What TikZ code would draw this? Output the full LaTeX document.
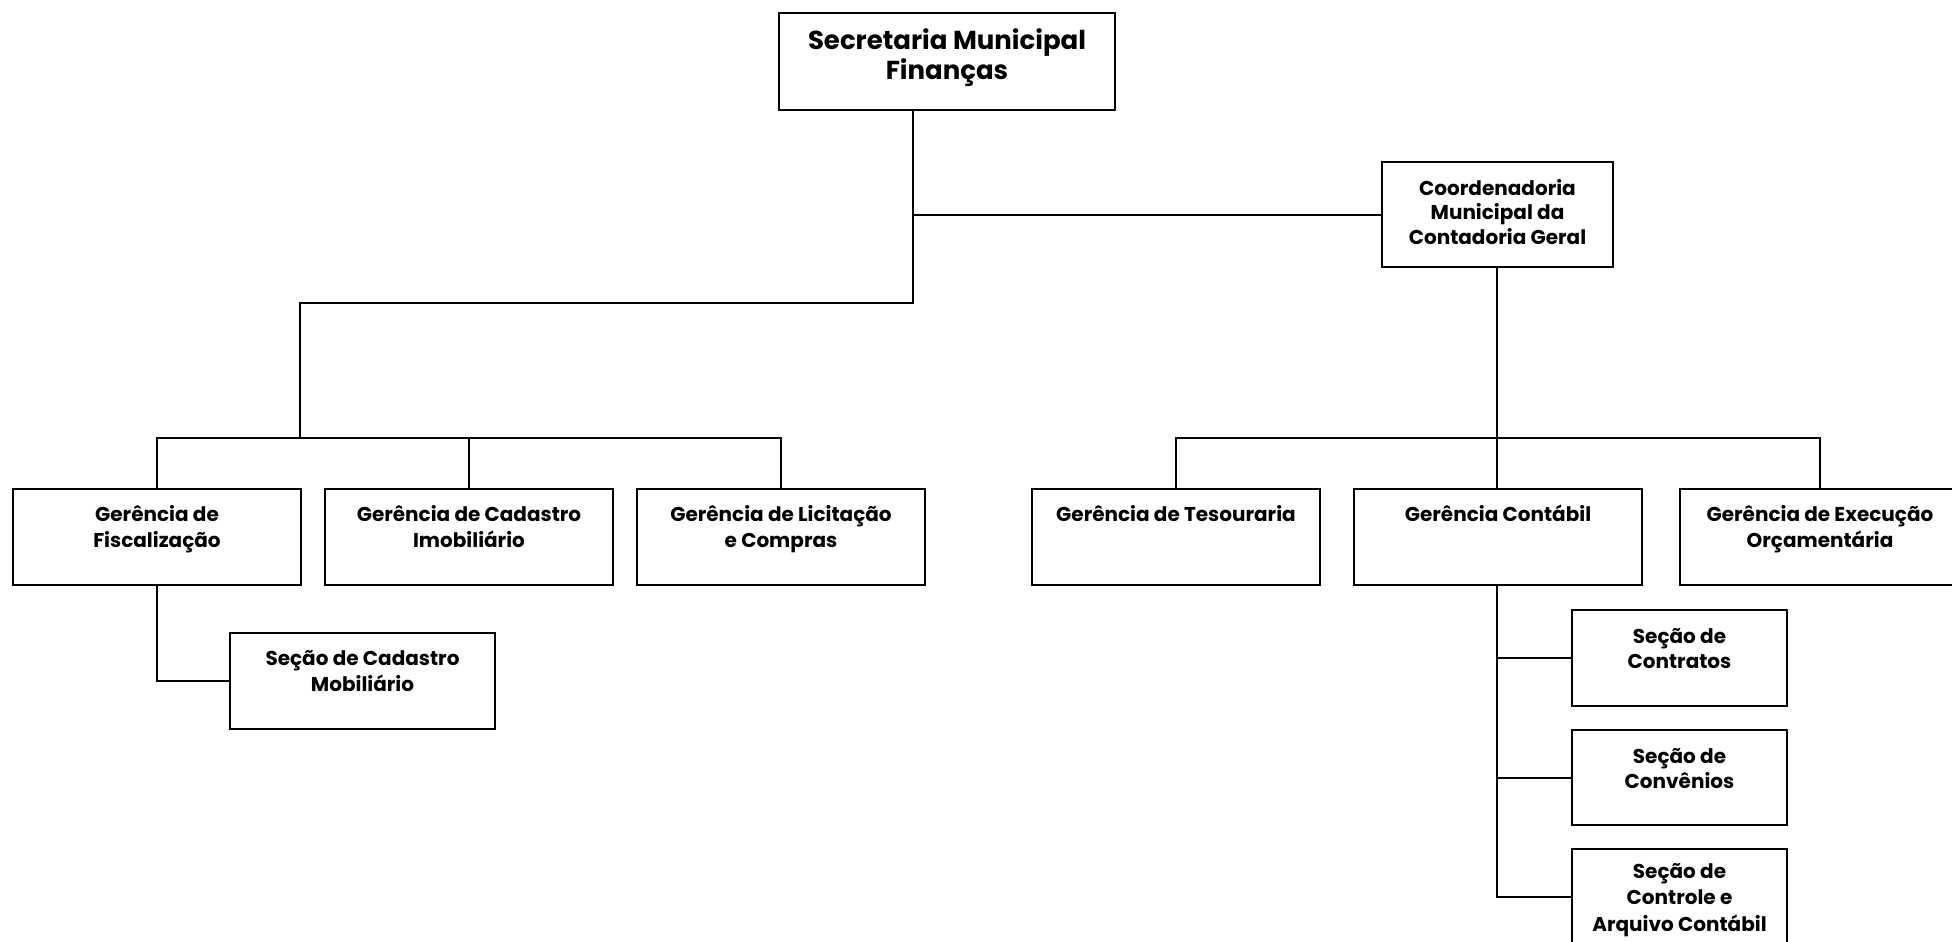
\documentclass[tikz,border=0pt]{standalone}
\usepackage{fontspec}
\setmainfont{Poppins}
\usetikzlibrary{calc}
\tikzset{
  orgnode/.style={draw, line width=2pt, inner sep=0pt, anchor=north west, font=\bfseries\fontsize{20}{26}\selectfont},
  conn/.style={draw, line width=2pt}
}
\newcommand{\orgbox}[8]{% name,x,y,w,h,strut,font,text
  \node[orgnode, font=\bfseries#7] (#1) at (#2,#3) {\begin{minipage}[t][#5pt][t]{#4pt}\centering\rule{0pt}{#6pt}#8\end{minipage}};}
\begin{document}
\begin{tikzpicture}[x=1pt,y=-1pt]
\useasboundingbox (0,0) rectangle (1952,942);
\clip (0,0) rectangle (1952,942);
\fill[white] (0,0) rectangle (1952,942);
% boxes
\orgbox{sec}{778}{12}{336}{97}{37}{\fontsize{26}{29}\selectfont}{Secretaria Municipal\\Finanças}
\orgbox{coord}{1381}{161}{231}{105}{33}{\fontsize{20}{24.5}\selectfont}{Coordenadoria\\Municipal da\\Contadoria Geral}
\orgbox{fisc}{12}{488}{288}{96}{32}{\fontsize{20}{26}\selectfont}{Gerência de\\Fiscalização}
\orgbox{cadi}{324}{488}{288}{96}{32}{\fontsize{20}{26}\selectfont}{Gerência de Cadastro\\Imobiliário}
\orgbox{lic}{636}{488}{288}{96}{32}{\fontsize{20}{26}\selectfont}{Gerência de Licitação\\e Compras}
\orgbox{tes}{1031}{488}{288}{96}{32}{\fontsize{20}{26}\selectfont}{Gerência de Tesouraria}
\orgbox{cont}{1353}{488}{288}{96}{32}{\fontsize{20}{26}\selectfont}{Gerência Contábil}
\orgbox{exe}{1679}{488}{280}{96}{32}{\fontsize{20}{26}\selectfont}{Gerência de Execução\\Orçamentária}
\orgbox{mob}{229}{632}{265}{96}{32}{\fontsize{20}{26}\selectfont}{Seção de Cadastro\\Mobiliário}
\orgbox{scA}{1571}{609}{215}{96}{33}{\fontsize{20}{25}\selectfont}{Seção de\\Contratos}
\orgbox{scB}{1571}{729}{215}{95}{33}{\fontsize{20}{25}\selectfont}{Seção de\\Convênios}
\orgbox{scC}{1571}{848}{215}{96}{29}{\fontsize{20}{26.5}\selectfont}{Seção de\\Controle e\\Arquivo Contábil}
% junction coordinates
\coordinate (kneeA) at (913,303);
\coordinate (kneeB) at (300,303);
\coordinate (busL) at (300,438);
\coordinate (busR) at (1497,438);
% connectors
\draw[conn] (sec.south -| kneeA) -- (kneeA) -- (kneeB) -- (busL);
\draw[conn] (kneeA |- coord.west) -- (coord.west);
\draw[conn] (fisc.north) |- (busL) -| (lic.north);
\draw[conn] (cadi.north) -- (cadi.north |- busL);
\draw[conn] (coord.south -| busR) -- (busR);
\draw[conn] (tes.north) |- (busR) -| (exe.north);
\draw[conn] (cont.north -| busR) -- (busR);
\draw[conn] (fisc.south) |- (mob.west);
\draw[conn] (cont.south -| busR) |- (scC.west);
\draw[conn] (busR |- scA.west) -- (scA.west);
\draw[conn] (busR |- scB.west) -- (scB.west);
\end{tikzpicture}
\end{document}
